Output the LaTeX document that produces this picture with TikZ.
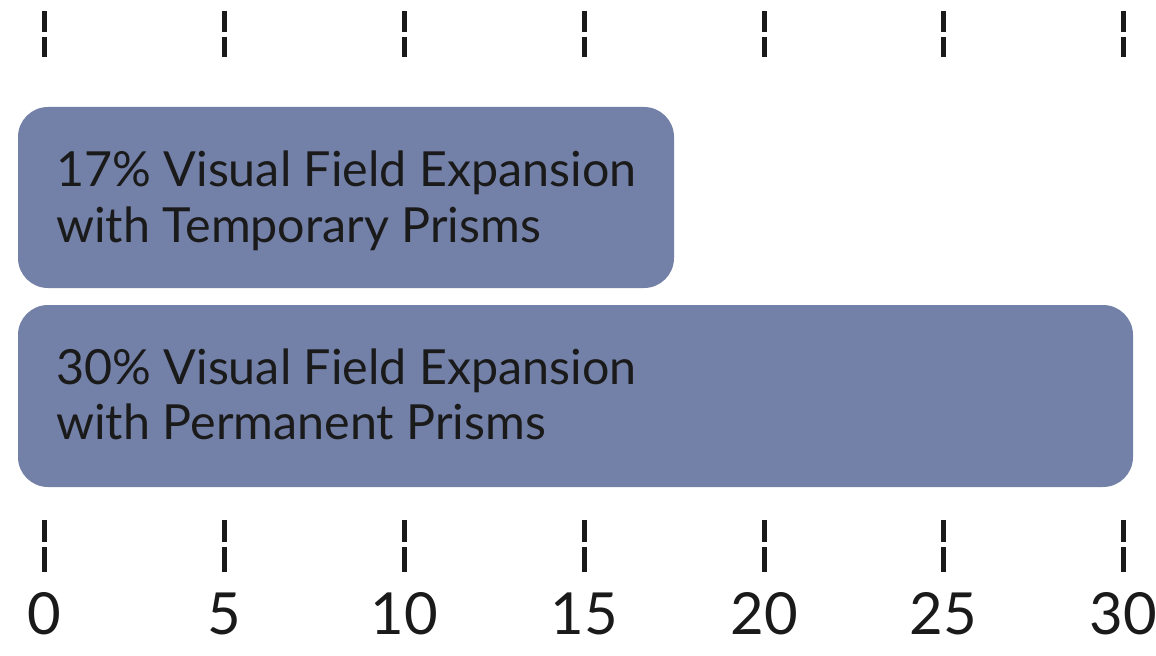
\documentclass[tikz,border=0pt]{standalone}
\usepackage{fontspec}
\setmainfont{Lato}
\definecolor{barfill}{RGB}{115,128,167}
\definecolor{ink}{RGB}{26,26,26}
\tikzset{
  bar/.style={fill=barfill, draw=none, rounded corners=22.5pt},
  bartext/.style={anchor=base west, inner sep=0pt, text=ink, font=\fontsize{36.3pt}{42pt}\selectfont},
  numlabel/.style={anchor=base, inner sep=0pt, text=ink, font=\fontsize{43.5pt}{50pt}\selectfont},
  tickline/.style={draw=ink, line width=3.75pt}
}
\begin{document}
\begin{tikzpicture}[x=0.75pt,y=-0.75pt]
\path[fill=white,use as bounding box] (0,0) rectangle (1156,656);
% bars
\path[bar] (18,107) rectangle (674,288);
\path[bar] (18,305) rectangle (1133,487);
\node[bartext] (t1a) at (56,186) {17\% Visual Field Expansion};
\node[bartext] (t1b) at (56,242) {with Temporary Prisms};
\node[bartext] (t2a) at (56,384) {30\% Visual Field Expansion};
\node[bartext] (t2b) at (56,439) {with Permanent Prisms};
% ticks and labels
\foreach \v/\x in {0/44,5/224,10/404,15/584,20/764,25/943,30/1123}{
  \draw[tickline] (\x,11) -- (\x,32);
  \draw[tickline] (\x,37) -- (\x,57);
  \draw[tickline] (\x,520) -- (\x,542);
  \draw[tickline] (\x,547) -- (\x,572);
  \node[numlabel] (n\v) at (\x,634) {\v};
}
\end{tikzpicture}
\end{document}
